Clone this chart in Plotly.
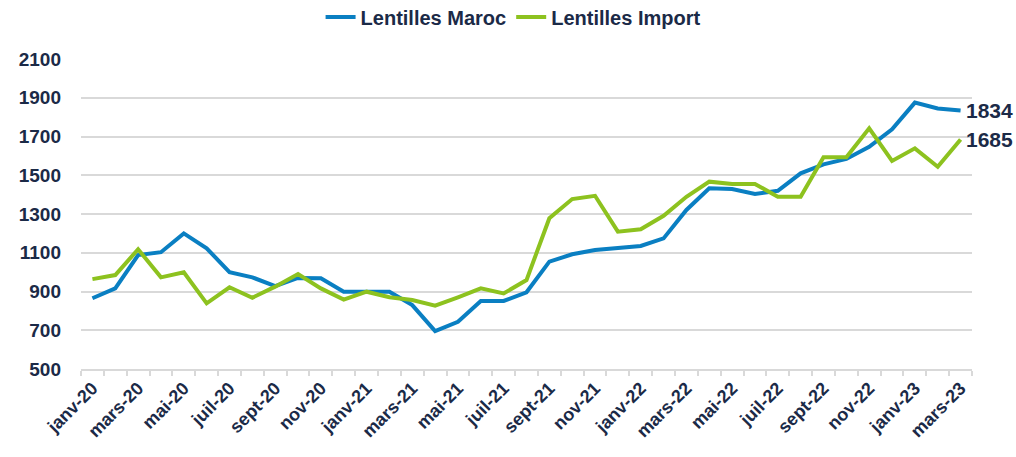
import plotly.graph_objects as go

months = ["janv", "févr", "mars", "avr", "mai", "juin", "juil", "août", "sept", "oct", "nov", "déc"]
categories = [f"{m}-{y}" for y in ["20", "21", "22"] for m in months] + ["janv-23", "févr-23", "mars-23"]

maroc = [865, 916, 1088, 1103, 1200, 1123, 1000, 973, 928, 970, 968, 899,
         899, 899, 830, 696, 744, 851, 851, 896, 1054, 1092, 1114, 1126,
         1135, 1174, 1321, 1433, 1429, 1403, 1420, 1510, 1556, 1584, 1647, 1737,
         1875, 1845, 1834]
importv = [964, 985, 1118, 973, 999, 839, 922, 868, 925, 990, 916, 858,
           899, 870, 856, 827, 870, 916, 890, 959, 1278, 1377, 1394, 1209,
           1221, 1291, 1389, 1467, 1455, 1455, 1389, 1389, 1593, 1593, 1742, 1574,
           1639, 1544, 1685]

ytick_vals = list(range(500, 2101, 200))
tick_labels = [c if i % 2 == 0 else "" for i, c in enumerate(categories)]

NAVY = "#1b2a47"
GRID = "#d9d9d9"
FONT = "Liberation Sans, Arial, sans-serif"

fig = go.Figure()
fig.add_trace(go.Scatter(x=categories, y=maroc, mode="lines", name="Lentilles Maroc",
                         line=dict(color="#0a7fc2", width=4)))
fig.add_trace(go.Scatter(x=categories, y=importv, mode="lines", name="Lentilles Import",
                         line=dict(color="#8dc21f", width=4)))

for vals in [maroc, importv]:
    fig.add_annotation(x=categories[-1], y=vals[-1], text=f"<b>{vals[-1]}</b>",
                       showarrow=False, xanchor="left", yanchor="middle", xshift=3,
                       font=dict(size=21, color=NAVY, family=FONT, weight="bold"))

fig.update_layout(
    width=1016, height=457,
    margin=dict(l=81, r=44, t=59, b=88),
    paper_bgcolor="white", plot_bgcolor="white",
    font=dict(family=FONT, color=NAVY),
    showlegend=True,
    legend=dict(orientation="h", xref="container", yref="container", x=0.505, y=1 - 17 / 457,
                xanchor="center", yanchor="middle",
                font=dict(size=20, color=NAVY, family=FONT, weight="bold"),
                traceorder="normal"),
    xaxis=dict(type="category", tickmode="array", tickvals=categories, ticktext=tick_labels,
               tickangle=-45, tickson="boundaries", ticks="outside", ticklen=5,
               tickcolor=GRID, tickwidth=1.5, showline=True, linecolor=GRID, linewidth=1.5,
               showgrid=False, automargin=False,
               tickfont=dict(size=18, color=NAVY, family=FONT, weight="bold"),
               range=[-0.5, len(categories) - 0.5]),
    yaxis=dict(range=[500, 2100], tickvals=ytick_vals, showgrid=True, gridcolor=GRID,
               gridwidth=1.5, zeroline=False, ticks="", ticklabelstandoff=19, automargin=False,
               tickfont=dict(size=19, color=NAVY, family=FONT, weight="bold")),
)

fig.write_html("out.html", config={"displayModeBar": False},
               post_script="document.body.style.margin='0';document.body.style.overflow='hidden';")
